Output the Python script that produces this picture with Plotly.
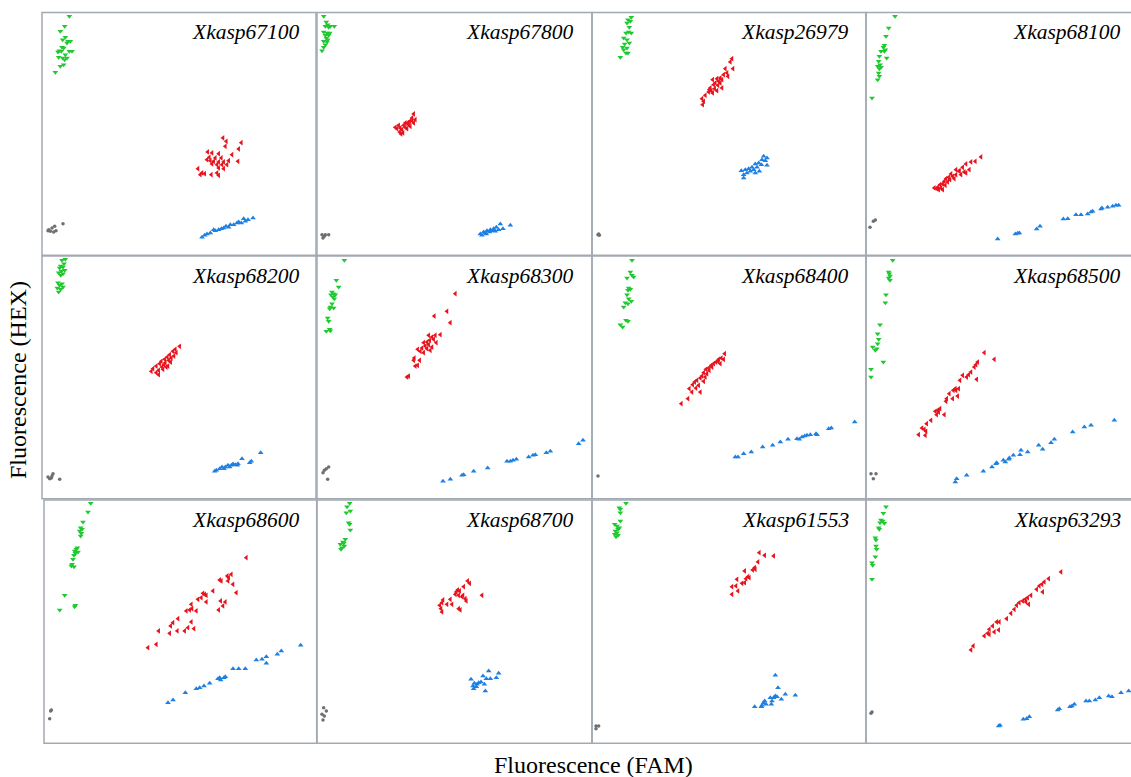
import plotly.graph_objects as go

# ---------------- data (FAM, HEX) relative fluorescence units ----------------
TITLES = ["Xkasp67100", "Xkasp67800", "Xkasp26979", "Xkasp68100",
          "Xkasp68200", "Xkasp68300", "Xkasp68400", "Xkasp68500",
          "Xkasp68600", "Xkasp68700", "Xkasp61553", "Xkasp63293"]

P1_GREEN = [(82,717),(68,687),(55,672),(70,654),(62,647),(78,642),(85,642),(75,637),(60,624),(65,622),(52,614),(58,612),(48,610),(82,612),(90,612),(70,602),(50,594),(62,592),(75,592),(68,587),(65,572),(55,567),(40,549)]
P1_RED = [(543,352),(553,342),(598,338),(550,327),(590,319),(497,310),(510,307),(530,305),(570,302),(502,294),(520,292),(538,292),(495,287),(505,284),(515,282),(530,280),(545,280),(560,284),(588,282),(510,274),(525,272),(540,272),(555,272),(468,260),(530,262),(545,260),(480,247),(488,245),(508,242),(525,247),(530,240),(475,242)]
P1_BLUE = [(480,54),(488,60),(495,64),(505,67),(515,77),(520,74),(530,77),(538,80),(545,82),(552,87),(560,84),(565,92),(575,92),(585,97),(590,100),(605,110),(610,102),(618,107),(633,112),(598,97)]
P1_GRAY = [(20,77),(30,82),(38,87),(25,72),(35,70),(18,74),(42,74),(63,95)]

P2_GREEN = [(20,717),(28,700),(32,692),(25,687),(40,687),(52,687),(35,684),(20,670),(30,667),(38,667),(25,660),(35,660),(28,652),(32,647),(20,642),(30,640),(25,632),(20,624),(15,614)]
P2_RED = [(290,424),(285,412),(295,407),(278,402),(290,397),(265,397),(275,392),(260,390),(245,390),(250,382),(265,384),(280,387),(240,380),(255,377),(270,380),(248,370),(258,367),(252,364),(235,384),(285,404),(272,397)]
P2_BLUE = [(580,90),(550,94),(538,84),(530,80),(520,77),(510,74),(500,70),(490,64),(495,60),(508,64),(518,70),(528,74),(545,77),(558,80),(535,72),(505,67)]
P2_GRAY = [(15,62),(25,62),(35,62),(18,52),(22,57)]

P3_GREEN = [(118,714),(108,707),(115,702),(105,697),(112,684),(110,670),(102,667),(118,667),(95,652),(105,647),(112,637),(98,634),(92,624),(105,622),(95,617),(102,607),(108,607),(85,594)]
P3_RED = [(420,590),(415,580),(423,560),(400,560),(405,547),(395,542),(385,532),(408,537),(375,530),(362,527),(390,527),(370,517),(385,517),(365,512),(378,510),(355,502),(368,500),(390,502),(358,494),(375,494),(350,490),(362,487),(340,480),(330,470),(335,462),(332,452),(380,522),(352,497)]
P3_BLUE = [(515,297),(525,292),(510,287),(520,284),(500,277),(490,274),(508,272),(525,270),(480,264),(495,264),(470,260),(485,257),(460,257),(448,254),(475,252),(502,252),(465,247),(455,242),(490,247),(455,232)]
P3_GRAY = [(20,64),(22,60),(18,62)]

P4_GREEN = [(87,717),(68,682),(60,657),(55,630),(52,624),(58,617),(45,612),(55,612),(40,597),(62,592),(38,582),(42,572),(35,567),(45,564),(40,560),(38,547),(40,537),(35,527),(18,472)]
P4_RED = [(345,295),(328,282),(315,280),(300,274),(290,264),(310,257),(270,257),(280,252),(295,250),(255,244),(270,242),(285,242),(260,237),(240,230),(252,227),(265,230),(235,222),(245,220),(230,214),(222,212),(238,210),(215,204),(225,202),(205,202),(218,197),(230,197),(280,254),(248,234),(212,200),(300,247)]
P4_BLUE = [(395,49),(448,64),(455,66),(460,67),(512,79),(522,87),(592,109),(605,110),(630,122),(645,122),(665,124),(675,130),(680,132),(705,139),(708,142),(725,144),(740,147),(750,150),(758,150)]
P4_GRAY = [(12,84),(22,102),(28,106)]

P5_GREEN = [(70,718),(60,715),(66,705),(56,698),(63,695),(53,692),(68,685),(58,682),(50,678),(63,675),(56,670),(48,648),(60,645),(53,640),(63,635),(46,632),(56,628),(50,620)]
P5_RED = [(413,457),(400,448),(393,442),(403,438),(383,432),(396,428),(376,425),(388,422),(368,418),(380,415),(358,412),(370,408),(386,410),(353,405),(366,402),(378,398),(343,398),(360,395),(333,390),(350,385),(328,382),(343,378),(350,372),(373,395),(363,388)]
P5_BLUE = [(656,138),(600,120),(628,112),(623,108),(588,105),(580,102),(568,100),(558,100),(550,95),(540,95),(533,90),(523,85),(518,82),(563,95),(573,104),(546,90),(586,100)]
P5_GRAY = [(18,65),(28,62),(33,75),(23,60),(53,58),(30,68)]

P6_GREEN = [(82,715),(58,655),(65,635),(45,620),(50,615),(42,612),(55,612),(48,605),(52,600),(45,585),(40,575),(50,572),(38,570),(32,542),(35,532),(38,508),(28,502),(40,504)]
P6_RED = [(415,615),(390,562),(352,548),(400,528),(370,492),(355,490),(335,490),(345,485),(350,478),(338,475),(330,470),(320,468),(358,468),(335,462),(325,458),(345,455),(315,452),(330,450),(302,448),(310,442),(340,445),(320,438),(292,422),(308,415),(290,415),(302,400),(295,398),(275,368),(270,365)]
P6_BLUE = [(378,52),(400,58),(435,70),(440,72),(470,82),(512,92),(570,112),(580,112),(588,115),(598,118),(635,125),(648,130),(655,132),(688,138),(700,142),(785,165),(798,175)]
P6_GRAY = [(18,78),(22,85),(28,90),(35,95),(32,58)]

P7_GREEN = [(120,715),(115,680),(120,670),(125,665),(105,662),(110,632),(115,628),(108,625),(105,612),(110,600),(118,592),(100,588),(108,585),(95,575),(102,535),(108,532),(85,522),(92,515)]
P7_RED = [(398,435),(388,422),(395,418),(380,418),(372,410),(365,405),(385,405),(358,400),(350,392),(342,388),(352,385),(335,378),(345,375),(330,368),(340,365),(325,362),(315,355),(335,352),(308,350),(302,342),(320,340),(312,332),(292,330),(300,320),(325,320),(288,300),(268,285),(378,412),(360,395)]
P7_BLUE = [(430,125),(438,125),(455,135),(478,140),(512,155),(542,160),(565,170),(588,178),(615,180),(622,178),(630,185),(638,188),(645,190),(655,192),(672,195),(675,192),(710,210),(718,212),(788,230)]
P7_GRAY = [(18,68)]

P8_GREEN = [(80,715),(68,680),(70,675),(72,668),(68,662),(72,655),(60,612),(58,588),(42,522),(35,495),(38,478),(35,465),(20,455),(32,450),(28,445),(52,410),(15,388),(15,365)]
P8_RED = [(355,438),(385,418),(335,410),(330,402),(325,395),(315,380),(308,372),(302,365),(332,358),(282,355),(268,330),(262,325),(270,325),(278,330),(275,308),(260,300),(242,300),(240,292),(222,270),(215,265),(208,262),(218,260),(235,252),(212,252),(195,235),(182,225),(168,212),(175,208),(180,202),(158,192),(178,190),(290,370),(250,315)]
P8_BLUE = [(745,235),(675,220),(655,215),(620,200),(565,178),(555,168),(530,148),(518,160),(485,140),(465,145),(462,132),(442,130),(430,122),(428,118),(418,110),(412,115),(392,108),(390,105),(378,95),(352,82),(302,70),(272,60),(268,50)]
P8_GRAY = [(15,75),(30,75),(22,60)]

P9_GREEN = [(140,720),(132,694),(117,664),(110,647),(114,642),(107,637),(112,630),(110,622),(100,587),(97,582),(92,577),(102,574),(94,570),(90,564),(87,552),(84,537),(90,530),(82,532),(62,444),(94,414),(92,410),(47,400)]
P9_RED = [(607,557),(562,507),(550,502),(554,497),(527,490),(532,487),(567,477),(552,487),(507,457),(577,452),(477,450),(482,447),(487,444),(472,437),(462,432),(487,424),(530,427),(544,424),(537,412),(442,417),(444,404),(437,400),(427,397),(457,397),(524,400),(402,374),(387,362),(442,364),(380,352),(432,347),(450,344),(400,337),(422,337),(377,330),(344,337),(337,297),(312,287)]
P9_BLUE = [(770,294),(712,277),(700,267),(667,260),(654,252),(667,240),(637,250),(604,224),(584,224),(567,224),(544,200),(540,197),(527,197),(530,190),(522,194),(497,180),(480,172),(467,167),(457,164),(424,152),(387,130),(372,122)]
P9_GRAY = [(22,100),(20,97),(17,74)]

P10_GREEN = [(98,720),(90,710),(100,697),(88,692),(95,662),(98,657),(100,640),(85,612),(78,604),(70,597),(82,592),(75,587),(72,582),(80,600)]
P10_RED = [(452,487),(458,480),(440,470),(422,460),(418,454),(428,457),(415,447),(425,444),(495,444),(435,440),(445,434),(400,432),(378,430),(448,427),(375,422),(390,417),(405,417),(368,414),(372,404),(425,404),(430,400),(375,394),(438,444)]
P10_BLUE = [(515,217),(545,210),(498,202),(508,194),(520,194),(538,197),(462,192),(492,184),(472,180),(480,177),(502,177),(468,172),(478,170),(470,164),(505,157),(485,182)]
P10_GRAY = [(20,107),(28,97),(15,87),(22,82),(18,70)]

P11_GREEN = [(102,720),(82,707),(85,702),(85,692),(85,667),(68,657),(75,652),(82,647),(78,642),(70,637),(75,632),(68,627),(78,624),(72,620)]
P11_RED = [(502,572),(518,564),(545,562),(498,544),(488,527),(482,520),(458,517),(468,500),(462,494),(435,492),(450,480),(458,482),(472,497),(420,470),(432,472),(438,457),(420,447),(490,522)]
P11_BLUE = [(550,204),(558,167),(580,147),(610,144),(550,142),(545,137),(535,137),(555,140),(568,132),(540,127),(518,127),(515,122),(522,117),(510,114),(538,117),(488,110),(508,110)]
P11_GRAY = [(12,52),(20,52),(12,44)]

P12_GREEN = [(60,710),(52,690),(45,670),(50,667),(55,660),(42,662),(38,647),(40,642),(28,617),(30,610),(30,592),(32,582),(28,560),(18,542),(20,534),(18,492)]
P12_RED = [(585,514),(548,494),(535,484),(528,477),(520,472),(512,462),(530,454),(495,444),(485,437),(478,432),(470,427),(480,424),(460,422),(488,417),(452,414),(445,402),(435,390),(422,374),(400,364),(392,364),(380,352),(398,340),(370,342),(385,334),(365,330),(355,322),(370,327),(322,292),(315,280)]
P12_BLUE = [(788,157),(765,152),(738,140),(728,142),(700,137),(688,130),(670,127),(660,127),(625,117),(618,112),(612,110),(580,104),(575,100),(490,80),(482,74),(472,72),(402,54),(398,52)]
P12_GRAY = [(18,94),(15,90)]

PANELS = [
    (P1_GREEN, P1_RED, P1_BLUE, P1_GRAY), (P2_GREEN, P2_RED, P2_BLUE, P2_GRAY),
    (P3_GREEN, P3_RED, P3_BLUE, P3_GRAY), (P4_GREEN, P4_RED, P4_BLUE, P4_GRAY),
    (P5_GREEN, P5_RED, P5_BLUE, P5_GRAY), (P6_GREEN, P6_RED, P6_BLUE, P6_GRAY),
    (P7_GREEN, P7_RED, P7_BLUE, P7_GRAY), (P8_GREEN, P8_RED, P8_BLUE, P8_GRAY),
    (P9_GREEN, P9_RED, P9_BLUE, P9_GRAY), (P10_GREEN, P10_RED, P10_BLUE, P10_GRAY),
    (P11_GREEN, P11_RED, P11_BLUE, P11_GRAY), (P12_GREEN, P12_RED, P12_BLUE, P12_GRAY),
]

# ---------------- styling / geometry ----------------
W, H = 1131, 777
COL_L = [42, 317, 592, 866]
COL_R = [316, 592, 866, 1140]
ROW_T = [12.5, 256, 500]
ROW_B = [255.3, 498.7, 743.3]
TITLE_R = [302, 576, 851, 1123]
TITLE_T = [18, 262, 506]
SCALE = 3.0

STYLES = [
    dict(symbol="triangle-down", color="#1fc92f", size=5),
    dict(symbol="triangle-left", color="#e8131c", size=5),
    dict(symbol="triangle-up", color="#1d80e2", size=5),
    dict(symbol="circle", color="#6f6f6f", size=3.5),
]
BORDER = "#a3a9b1"
FONT = "Liberation Serif, Times New Roman, serif"

def px(x):
    return x / W

def py(y):
    return 1 - y / H

fig = go.Figure()
shapes = []
annotations = []
layout_axes = {}

for i, clusters in enumerate(PANELS):
    r, c = divmod(i, 4)
    n = i + 1
    left = COL_L[c]
    right = COL_R[c]
    if r == 2 and c == 0:
        left = 44
        right = 316.7
    top, bot = ROW_T[r], ROW_B[r]
    vis_right = min(right, W)
    xd = [px(left), px(vis_right)]
    yd = [py(bot), py(top)]
    xname = "xaxis" if n == 1 else f"xaxis{n}"
    yname = "yaxis" if n == 1 else f"yaxis{n}"
    xr = "x" if n == 1 else f"x{n}"
    yr = "y" if n == 1 else f"y{n}"
    layout_axes[xname] = dict(domain=xd, range=[0, (vis_right - left) * SCALE], visible=False,
                              anchor=yr, fixedrange=True)
    layout_axes[yname] = dict(domain=yd, range=[0, (bot - top) * SCALE], visible=False,
                              anchor=xr, fixedrange=True)
    for pts, st in zip(clusters, STYLES):
        fig.add_trace(go.Scatter(
            x=[p[0] for p in pts], y=[p[1] for p in pts], mode="markers",
            marker=dict(symbol=st["symbol"], size=st["size"], color=st["color"],
                        line=dict(width=0)),
            xaxis=xr, yaxis=yr, showlegend=False, hoverinfo="skip"))
    shapes.append(dict(type="rect", xref="paper", yref="paper",
                       x0=px(left), x1=px(right), y0=py(bot), y1=py(top),
                       line=dict(color=BORDER, width=1.5), fillcolor="rgba(0,0,0,0)",
                       layer="above"))
    tr = TITLE_R[c]
    annotations.append(dict(text=TITLES[i], xref="paper", yref="paper",
                            x=px(tr), y=py(TITLE_T[r]), xanchor="right", yanchor="top",
                            showarrow=False,
                            font=dict(family=FONT, size=21.5, color="black", style="italic")))

annotations.append(dict(text="Fluorescence (FAM)", xref="paper", yref="paper",
                        x=px(593), y=py(765), xanchor="center", yanchor="middle",
                        showarrow=False, font=dict(family=FONT, size=24, color="black")))
annotations.append(dict(text="Fluorescence (HEX)", xref="paper", yref="paper",
                        x=px(18), y=py(380), xanchor="center", yanchor="middle",
                        textangle=-90, showarrow=False,
                        font=dict(family=FONT, size=24, color="black")))

fig.update_layout(width=W, height=H, margin=dict(l=0, r=0, t=0, b=0),
                  paper_bgcolor="white", plot_bgcolor="white",
                  shapes=shapes, annotations=annotations, **layout_axes)

fig.write_html("out.html", config={"displayModeBar": False},
               post_script="document.body.style.margin='0';document.body.style.overflow='hidden';")
